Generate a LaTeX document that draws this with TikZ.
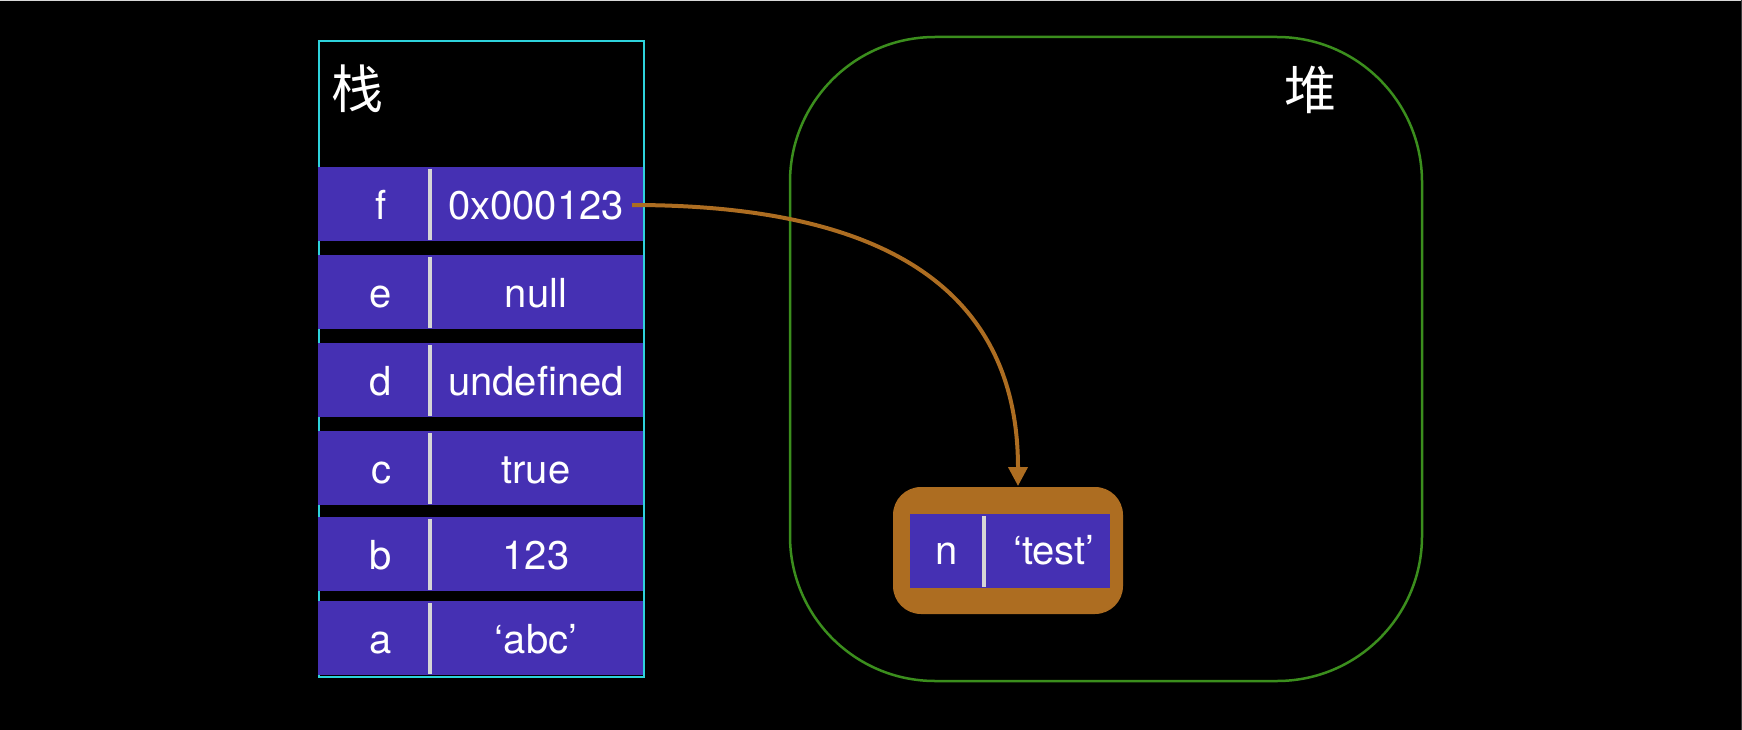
\documentclass[tikz,border=0pt]{standalone}
\usepackage{fontspec}
\setmainfont{TeX Gyre Heros}
\newfontfamily\cjk{Noto Sans CJK SC}
\usetikzlibrary{arrows.meta}
\definecolor{rowpurple}{RGB}{69,48,179}
\definecolor{stackcyan}{RGB}{46,211,220}
\definecolor{heapgreen}{RGB}{59,142,29}
\definecolor{objorange}{RGB}{173,109,33}
\definecolor{divgray}{RGB}{214,214,214}
\tikzset{
  rowcell/.style={fill=rowpurple, inner sep=0, minimum width=325pt, minimum height=74pt, anchor=north west},
  celltext/.style={text=white, font=\fontsize{40}{48}\selectfont, anchor=base, inner sep=0},
  divider/.style={draw=divgray, line width=3.5pt},
  cjklabel/.style={text=white, font=\cjk\fontsize{52}{60}\selectfont, inner sep=0},
  pointer/.style={draw=objorange, line width=4pt, -{Triangle[width=19pt,length=19pt]}}
}
\begin{document}
\begin{tikzpicture}[x=1pt,y=-1pt]
\fill[black] (0,0) rectangle (1742,730);
\useasboundingbox (0,0) rectangle (1742,730);
\draw[color={rgb,255:red,216;green,216;blue,216}, line width=1pt] (0,0.5) -- (1742,0.5);
\draw[color={rgb,255:red,60;green,60;blue,60}, line width=1pt] (1741.5,0) -- (1741.5,730);

% stack
\node[draw=stackcyan, line width=2pt, minimum width=325pt, minimum height=636pt, anchor=north west, inner sep=0] (stack) at (318,40) {};
\node[cjklabel] (stacklabel) at (357,89) {栈};

\foreach \key/\val/\top in {f/0x000123/167, e/null/255, d/undefined/343, c/true/431, b/123/517, a/‘abc’/601}{
  \node[rowcell] (row\key) at (318,\top) {};
  \draw[divider] (430,\top+2) -- (430,\top+73);
  \node[celltext] (k\key) at (381,\top+52) {\key};
  \node[celltext] (v\key) at (536,\top+52) {\val};
}

% heap
\node[draw=heapgreen, line width=2.5pt, minimum width=632pt, minimum height=644pt, rounded corners=145pt, inner sep=0] (heap) at (1106,359) {};
\node[cjklabel] (heaplabel) at (1310,90) {堆};

\node[fill=objorange, rounded corners=28pt, minimum width=230pt, minimum height=127pt, inner sep=0] (obj) at (1008,550.5) {};
\node[fill=rowpurple, minimum width=200pt, minimum height=74pt, inner sep=0] (objrow) at (1010,551) {};
\draw[divider] (984,516) -- (984,587);
\node[celltext] (kn) at (947,564) {n};
\node[celltext] (vn) at (1054,564) {‘test’};

% pointer
\coordinate (fptr) at (632,205);
\coordinate (objtop) at (1018,486);
\draw[pointer] (fptr) .. controls (900,205) and (1018,300) .. (objtop);
\end{tikzpicture}
\end{document}
